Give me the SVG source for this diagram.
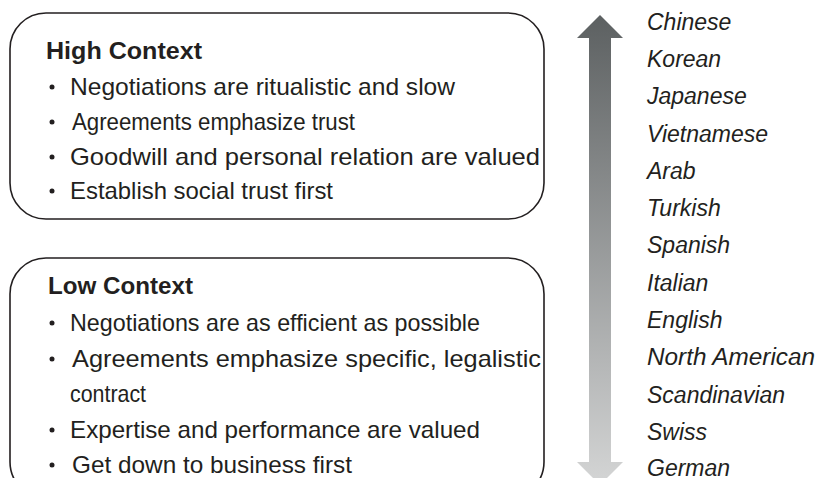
<svg xmlns="http://www.w3.org/2000/svg" width="817" height="478" viewBox="0 0 817 478">
<style>
.box{fill:#fff;stroke:#231f20;stroke-width:1.6}
.t{font-family:"Liberation Sans",Arial,sans-serif;font-size:24px;fill:#231f20}
.h{font-weight:bold;font-size:24px}
.c{font-family:"Liberation Sans",Arial,sans-serif;font-size:23px;font-style:italic;fill:#231f20}
.b{fill:#231f20}
</style>
<defs>
<linearGradient id="g" x1="0" y1="0" x2="0" y2="1">
<stop offset="0" stop-color="#5c6061"/>
<stop offset="1" stop-color="#d4d5d5"/>
</linearGradient>
</defs>
<rect width="817" height="478" fill="#fff"/>
<g id="high-context">
<rect class="box" x="10" y="13" width="534" height="206" rx="36" ry="36"/>
<text class="t h" x="46" y="59" textLength="156" lengthAdjust="spacingAndGlyphs">High Context</text>
<circle class="b" cx="52" cy="87" r="2.5"/>
<text class="t" x="70" y="95" textLength="385" lengthAdjust="spacingAndGlyphs">Negotiations are ritualistic and slow</text>
<circle class="b" cx="52" cy="122" r="2.5"/>
<text class="t" x="72" y="130" textLength="283" lengthAdjust="spacingAndGlyphs">Agreements emphasize trust</text>
<circle class="b" cx="52" cy="157" r="2.5"/>
<text class="t" x="70" y="165" textLength="470" lengthAdjust="spacingAndGlyphs">Goodwill and personal relation are valued</text>
<circle class="b" cx="52" cy="191" r="2.5"/>
<text class="t" x="70" y="199" textLength="263" lengthAdjust="spacingAndGlyphs">Establish social trust first</text>
</g>
<g id="low-context">
<rect class="box" x="10" y="258" width="534" height="240" rx="36" ry="36"/>
<text class="t h" x="48" y="294" textLength="145" lengthAdjust="spacingAndGlyphs">Low Context</text>
<circle class="b" cx="52" cy="323" r="2.5"/>
<text class="t" x="70" y="331" textLength="410" lengthAdjust="spacingAndGlyphs">Negotiations are as efficient as possible</text>
<circle class="b" cx="52" cy="359" r="2.5"/>
<text class="t" x="72" y="367" textLength="469" lengthAdjust="spacingAndGlyphs">Agreements emphasize specific, legalistic</text>
<text class="t" x="70" y="402" textLength="76" lengthAdjust="spacingAndGlyphs">contract</text>
<circle class="b" cx="52" cy="430" r="2.5"/>
<text class="t" x="70" y="438" textLength="410" lengthAdjust="spacingAndGlyphs">Expertise and performance are valued</text>
<circle class="b" cx="52" cy="465" r="2.5"/>
<text class="t" x="72" y="473" textLength="280" lengthAdjust="spacingAndGlyphs">Get down to business first</text>
</g>
<g id="connectors">
<path d="M600 15 L623 38 L611 38 L611 462 L623 462 L600 485 L577 462 L589 462 L589 38 L577 38 Z" fill="url(#g)"/>
</g>
<g id="countries">
<text class="c" x="647" y="30">Chinese</text>
<text class="c" x="647" y="67">Korean</text>
<text class="c" x="647" y="104">Japanese</text>
<text class="c" x="647" y="142">Vietnamese</text>
<text class="c" x="647" y="179">Arab</text>
<text class="c" x="647" y="216">Turkish</text>
<text class="c" x="647" y="253">Spanish</text>
<text class="c" x="647" y="291">Italian</text>
<text class="c" x="647" y="328">English</text>
<text class="c" x="647" y="365" textLength="168" lengthAdjust="spacingAndGlyphs">North American</text>
<text class="c" x="647" y="403">Scandinavian</text>
<text class="c" x="647" y="440">Swiss</text>
<text class="c" x="647" y="476">German</text>
</g>
</svg>
